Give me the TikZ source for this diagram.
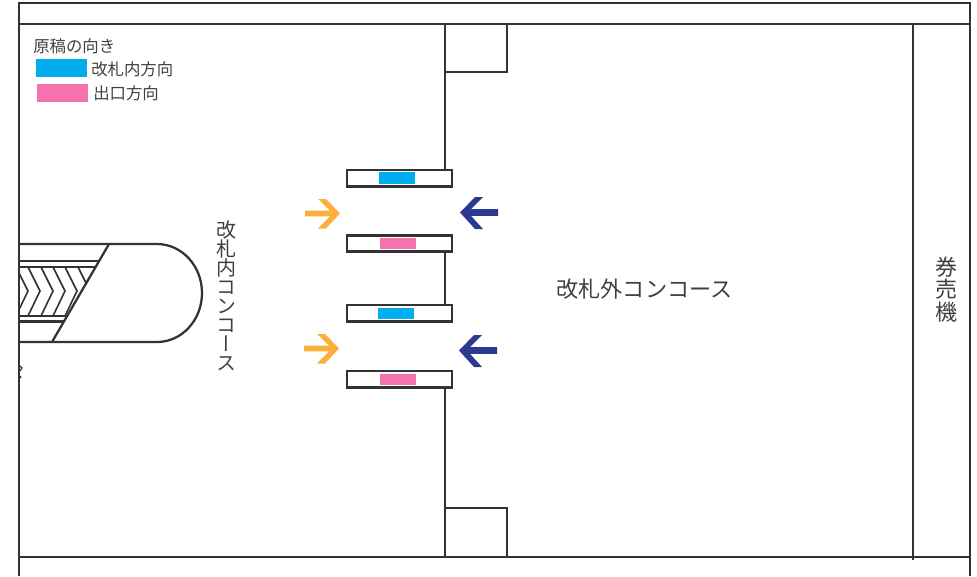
\documentclass[tikz,border=0pt]{standalone}
\usepackage{fontspec}
\setmainfont{Noto Sans CJK JP}
\newfontfamily\vertjp[RawFeature=+vert]{Noto Sans CJK JP}
\definecolor{ink}{HTML}{333333}
\definecolor{txt}{HTML}{404040}
\definecolor{cyanb}{HTML}{00AEEF}
\definecolor{pinkb}{HTML}{F472AE}
\definecolor{orangea}{HTML}{FBB03B}
\definecolor{navya}{HTML}{2B3990}
\tikzset{
 wall/.style={draw=ink,line width=1.7pt},
 thin wall/.style={draw=ink,line width=1.2pt},
 gate/.style={draw=ink,line width=1.9pt,fill=white,minimum width=79pt,minimum height=12.3pt,inner sep=0pt},
 swatch/.style={inner sep=0pt,minimum width=27pt,minimum height=8.8pt},
 bigswatch/.style={inner sep=0pt,minimum width=38.7pt,minimum height=13.5pt},
 legendtxt/.style={text=txt,font=\fontsize{12.3}{14}\selectfont,inner sep=0pt,anchor=west},
 bigtxt/.style={text=txt,font=\fontsize{16.6}{20}\selectfont,inner sep=0pt},
 vtxt/.style={text=txt,inner sep=0pt,align=center},
 orangehead/.pic={\fill[orangea] (0,-2.8) -- (25,-2.8) -- (13,-14.5) -- (21,-14.5) -- (35,0) -- (21,15) -- (13,15) -- (25,2.8) -- (0,2.8) -- cycle;},
 navyhead/.pic={\fill[navya] (0,0) -- (15,-15.5) -- (23,-15.5) -- (11,-3.3) -- (38,-3.3) -- (38,3.3) -- (11,3.3) -- (23,16.5) -- (15,16.5) -- cycle;},
}
\begin{document}
\begin{tikzpicture}[x=0.75pt,y=-0.75pt]
\useasboundingbox (0,0) rectangle (977,576);
% outer walls
\draw[wall] (19,576) -- (19,3) -- (970,3) -- (970,576);
\draw[wall] (19,24) -- (970,24);
\draw[wall] (19,557) -- (970,557);
\draw[wall] (913,24) -- (913,560);
% pillars
\draw[wall] (445,24) rectangle (507,72);
\draw[wall] (445,508) rectangle (507,557);
\coordinate (p1) at (445,72);
\coordinate (p2) at (445,508);
% gates
\node[gate] (g1) at (399.5,178.3) {};
\node[gate] (g2) at (399.5,243.5) {};
\node[gate] (g3) at (399.5,313.4) {};
\node[gate] (g4) at (399.5,379.4) {};
\draw[thin wall] (p1) -- (p1 |- g1.north);
\draw[thin wall] (p1 |- g2.south) -- (p1 |- g3.north);
\draw[thin wall] (p1 |- g4.south) -- (p2);
\node[swatch,fill=cyanb] (s1) at (397,178.2) {};
\node[swatch,fill=pinkb] (s2) at (397.7,243.4) {};
\node[swatch,fill=cyanb] (s3) at (396,313.4) {};
\node[swatch,fill=pinkb] (s4) at (397.7,379.4) {};
% arrows (pics are drawn in px units)
\path (305,213.5) pic {orangehead};
\path (304,348.5) pic {orangehead};
\path (460,212.5) pic {navyhead};
\path (459,350.5) pic {navyhead};
% escalator
\begin{scope}
\clip (19,244) -- (109,244) -- (52,342) -- (19,342) -- cycle;
\draw[wall] (19,261) -- (110,261);
\draw[wall] (19,267) -- (110,267);
\draw[wall] (19,316) -- (110,316);
\draw[wall] (19,321.5) -- (110,321.5);
\clip (0,267) rectangle (120,316);
\foreach \t in {28,40,53,65,77,90}{
  \draw[ink,line width=1.2pt] (\t-12,267) -- (\t,291) -- (\t-12,316);
}
\end{scope}
\draw[wall] (19,244) -- (157,244) arc[start angle=-90,end angle=90,x radius=45,y radius=49] -- (19,342);
\draw[wall] (109,244) -- (52,342);
% small mark on the left wall
\draw[ink,line width=0.9pt] (20,366) -- (22,368) -- (20,371);
\draw[ink,line width=0.9pt] (20,376) -- (21,378);
% labels
\node[legendtxt] (lt) at (33,46) {原稿の向き};
\node[bigswatch,fill=cyanb] (l1) at (61.5,68.3) {};
\node[bigswatch,fill=pinkb] (l2) at (62.3,93.2) {};
\node[legendtxt] (l1t) at (91,69.5) {改札内方向};
\node[legendtxt] (l2t) at (93,93.5) {出口方向};
\node[bigtxt] (out) at (644.5,289) {改札外コンコース};
\node[vtxt,font=\vertjp\fontsize{15}{14.3}\selectfont] (in) at (226,296) {改\\札\\内\\コ\\ン\\コ\\ー\\ス};
\node[vtxt,font=\vertjp\fontsize{16.5}{16.8}\selectfont] (ken) at (946,289.5) {券\\売\\機};
\end{tikzpicture}
\end{document}
